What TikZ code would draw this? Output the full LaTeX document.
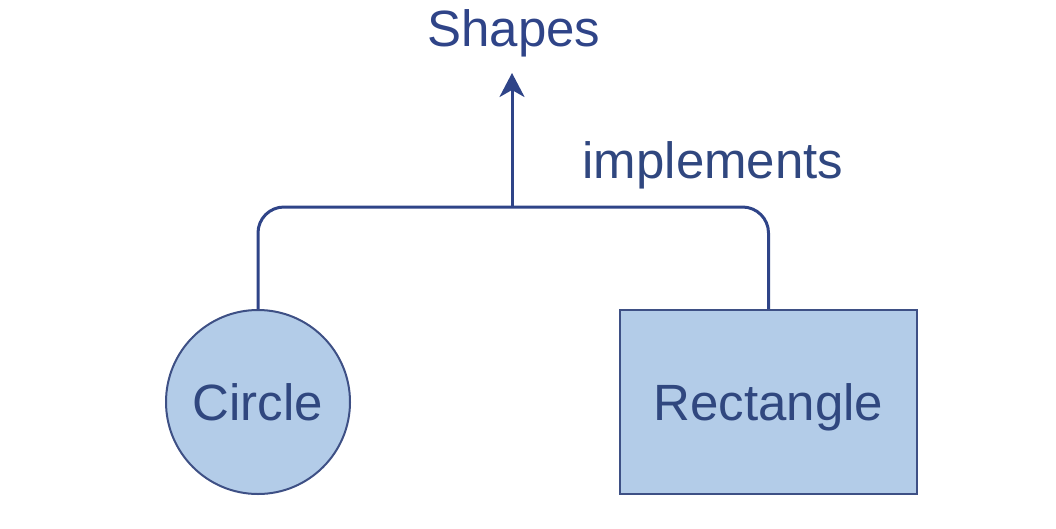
\documentclass[tikz,border=0pt]{standalone}
\usepackage{fontspec}
\setmainfont{Liberation Sans}
\usetikzlibrary{arrows.meta}
\definecolor{ink}{HTML}{2F4488}
\definecolor{txt}{HTML}{30477F}
\definecolor{boxfill}{HTML}{B3CCE8}
\definecolor{border}{HTML}{3E5085}
\tikzset{
  shapenode/.style={draw=border, line width=2pt, fill=boxfill, text=txt,
    font=\fontsize{51}{60}\selectfont, text height=37pt, text depth=0pt, inner sep=0pt},
  lbl/.style={text=txt, font=\fontsize{51}{60}\selectfont, inner sep=0pt},
  link/.style={draw=ink, line width=3pt, rounded corners=26pt},
}
\begin{document}
\begin{tikzpicture}[x=1pt,y=-1pt]
\useasboundingbox (0,0) rectangle (1056,528);
\node[shapenode, circle, minimum size=184pt] (c) at (258,402) {Circle};
\node[shapenode, rectangle, minimum width=297pt, minimum height=184pt] (r) at (768.5,402) {Rectangle};
\node[lbl, anchor=base, text=ink] (s) at (514,46) {Shapes};
\node[lbl, anchor=base] (impl) at (713,178) {implements};
\coordinate (j) at (512,207);
\coordinate (tip) at (512,73);
\draw[link] (c.north) |- (j) -| (r.north);
\draw[draw=ink, line width=3pt, -{Stealth[length=24pt,width=25pt,inset=7pt]}] (j) -- (tip);
\end{tikzpicture}
\end{document}
